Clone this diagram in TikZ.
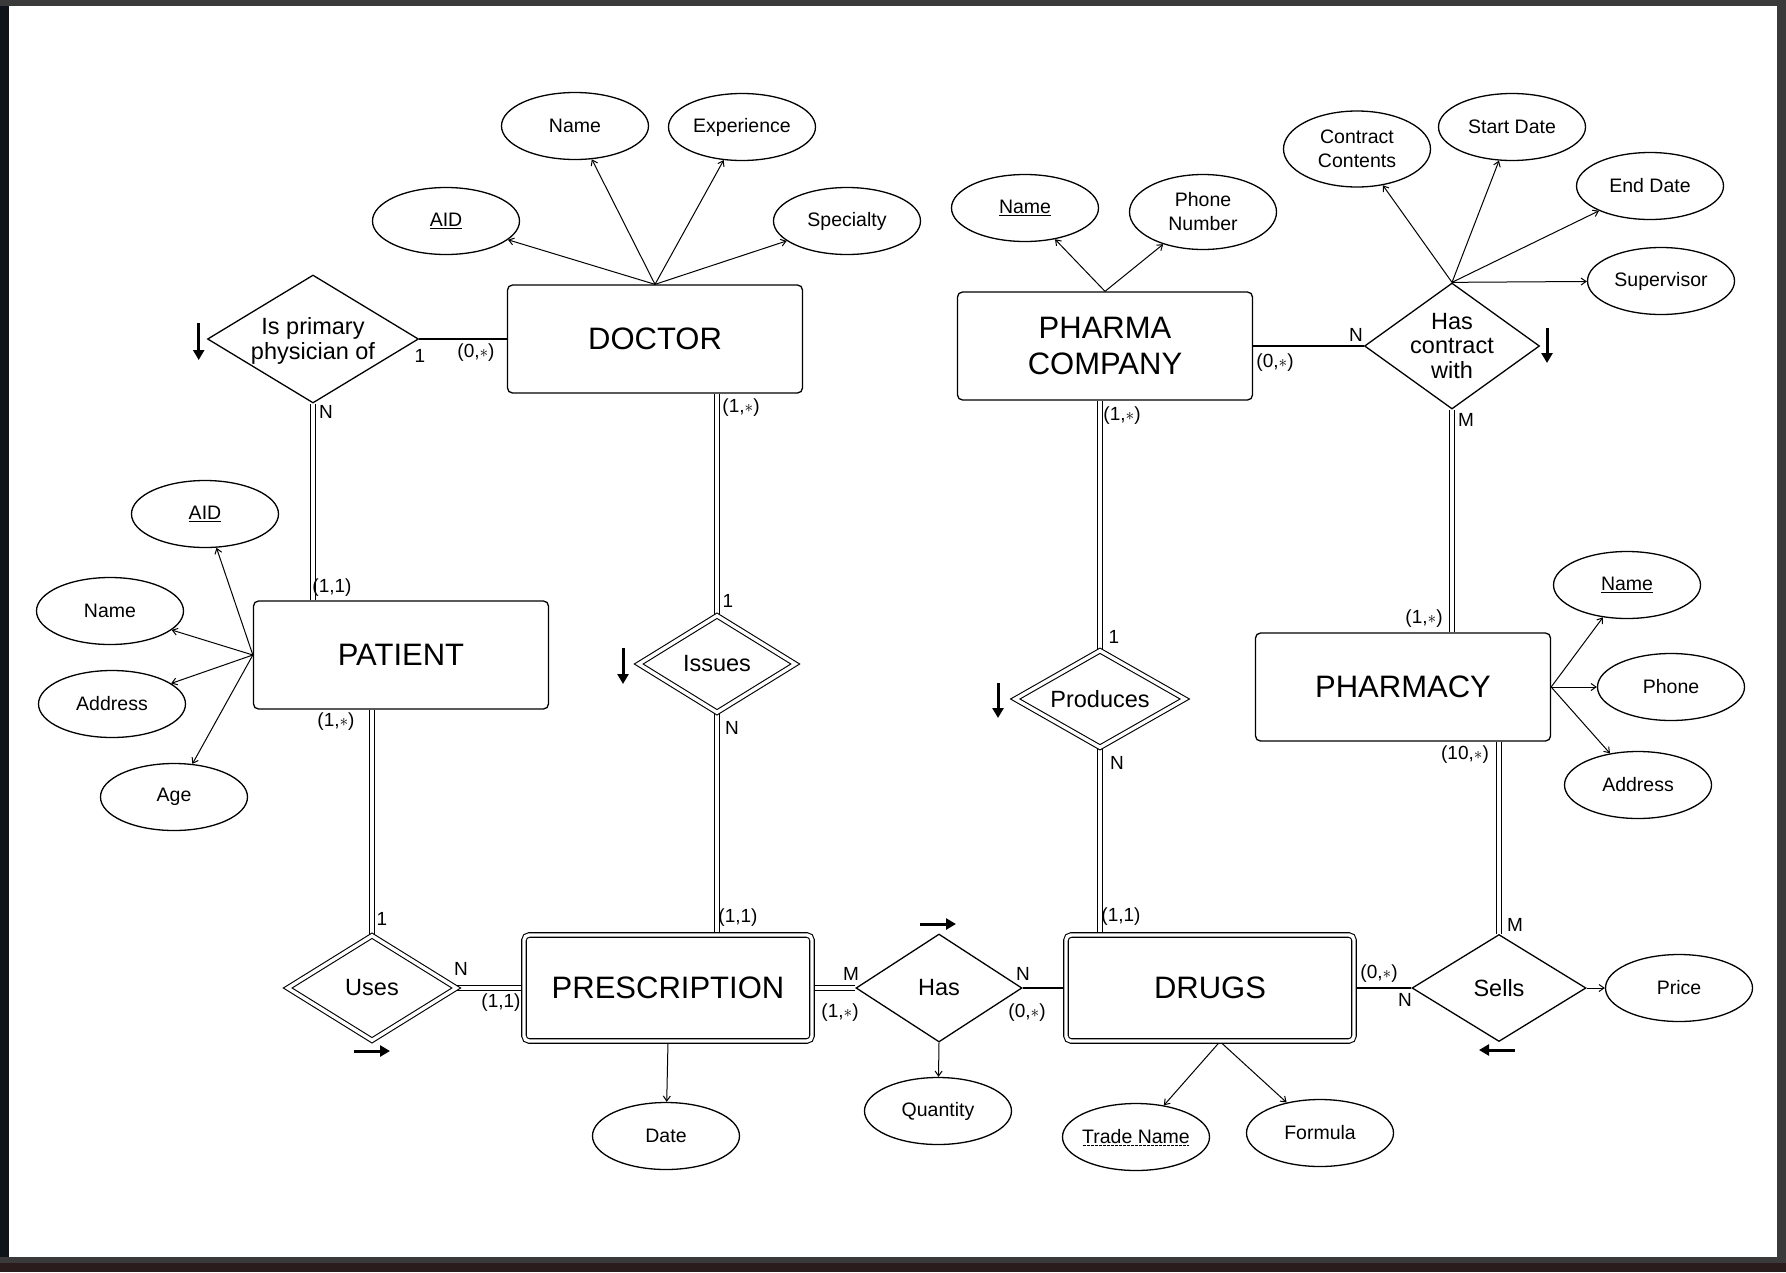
\documentclass[tikz,border=0pt]{standalone}
\usepackage{fontspec}
\setmainfont{Liberation Sans}
\usetikzlibrary{shapes.geometric,arrows.meta,backgrounds}
\definecolor{frameGray}{HTML}{3A3A3A}
\definecolor{frameLeft}{HTML}{0E1419}
\definecolor{frameBottom}{HTML}{2A1C1C}
\tikzset{
  ent/.style={draw, fill=white, line width=1.3pt, rounded corners=5pt, minimum width=295pt, minimum height=108pt, inner sep=0pt, align=center, font=\fontsize{31}{36}\selectfont},
  went/.style={ent, double, double distance=3.4pt, line width=1.1pt, minimum width=288pt, minimum height=106pt},
  rel/.style={draw, fill=white, diamond, line width=1.3pt, inner sep=0pt},
  wrel/.style={rel, double, double distance=3.4pt, line width=1.1pt},
  reltext/.style={inner sep=0pt, align=center, font=\fontsize{23.5}{24.5}\selectfont},
  attr/.style={draw, fill=white, ellipse, line width=1.3pt, minimum width=147pt, minimum height=67pt, inner sep=0pt, align=center, font=\fontsize{19.5}{24}\selectfont},
  card/.style={inner sep=0pt, font=\fontsize{19}{21}\selectfont},
  conn/.style={line width=1.3pt},
  dconn/.style={double, double distance=3.4pt, line width=1.1pt},
  attrarr/.style={line width=1pt, -{Straight Barb[length=5pt,width=7pt]}},
  dirarr/.style={line width=3pt, -{Triangle[length=10pt,width=11pt]}},
}
\newcommand{\st}{$\ast$}
\begin{document}
\begin{tikzpicture}[x=1pt,y=-1pt]
\useasboundingbox (0,0) rectangle (1786,1272);

% entities
\node[ent] (doctor) at (655,339) {DOCTOR};
\node[ent] (patient) at (401,655) {PATIENT};
\node[ent] (pharma) at (1105,346) {PHARMA\\COMPANY};
\node[ent] (pharmacy) at (1403,687) {PHARMACY};
\node[went] (presc) at (668,988) {PRESCRIPTION};
\node[went] (drugs) at (1210,988) {DRUGS};

% relationships
\node[rel, minimum width=211pt, minimum height=128pt] (ipp) at (313,339) {};
\node[reltext] (ippT) at ([yshift=-2pt]ipp.center) {Is primary\\physician of};
\node[rel, minimum width=175pt, minimum height=126pt] (hcw) at (1452,346) {};
\node[reltext] (hcwT) at (hcw.center) {Has\\contract\\with};
\node[wrel, minimum width=157pt, minimum height=97pt] (issues) at (717,664) {};
\node[reltext] (issuesT) at (issues.center) {Issues};
\node[wrel, minimum width=170pt, minimum height=97pt] (produces) at (1100,699) {};
\node[reltext] (producesT) at (produces.center) {Produces};
\node[wrel, minimum width=169pt, minimum height=105pt] (uses) at (372,988) {};
\node[reltext] (usesT) at (uses.center) {Uses};
\node[rel, minimum width=166pt, minimum height=108pt] (has) at (939,988) {};
\node[reltext] (hasT) at (has.center) {Has};
\node[rel, minimum width=174pt, minimum height=107pt] (sells) at (1499,988) {};
\node[reltext] (sellsT) at (sells.center) {Sells};

% attributes
\node[attr] (daid) at (446,221) {\underline{AID}};
\node[attr] (dname) at (575,126) {Name};
\node[attr] (dexp) at (742,127) {Experience};
\node[attr] (dspec) at (847,221) {Specialty};
\node[attr] (paid) at (205,514) {\underline{AID}};
\node[attr] (pname) at (110,611) {Name};
\node[attr] (paddr) at (112,704) {Address};
\node[attr] (page) at (174,797) {Age};
\node[attr] (cname) at (1025,208) {\underline{Name}};
\node[attr, minimum height=75pt] (cphone) at (1203,212) {Phone\\Number};
\node[attr, minimum height=76pt] (hcc) at (1357,149) {Contract\\Contents};
\node[attr] (hsd) at (1512,127) {Start Date};
\node[attr] (hed) at (1650,186) {End Date};
\node[attr] (hsup) at (1661,281) {Supervisor};
\node[attr] (yname) at (1627,585) {\underline{Name}};
\node[attr] (yphone) at (1671,687) {Phone};
\node[attr] (yaddr) at (1638,785) {Address};
\node[attr] (price) at (1679,988) {Price};
\node[attr, inner xsep=-4pt] (tn) at (1136,1137) {Trade Name};
\node[attr] (formula) at (1320,1133) {Formula};
\node[attr] (date) at (666,1136) {Date};
\node[attr] (qty) at (938,1111) {Quantity};

% cardinality labels
\node[card] (c1) at (420,356) {1};
\node[card] (c2) at (476,353) {(0,\st)};
\node[card] (c3) at (326,412) {N};
\node[card] (c4) at (332,588) {(1,1)};
\node[card] (c5) at (741,408) {(1,\st)};
\node[card] (c6) at (728,601) {1};
\node[card] (c7) at (732,728) {N};
\node[card] (c8) at (738,918) {(1,1)};
\node[card] (c9) at (336,722) {(1,\st)};
\node[card] (c10) at (382,919) {1};
\node[card] (c11) at (461,969) {N};
\node[card] (c12) at (501,1003) {(1,1)};
\node[card] (c13) at (851,974) {M};
\node[card] (c14) at (840,1013) {(1,\st)};
\node[card] (c15) at (1023,974) {N};
\node[card] (c16) at (1027,1013) {(0,\st)};
\node[card] (c17) at (1122,416) {(1,\st)};
\node[card] (c18) at (1114,637) {1};
\node[card] (c19) at (1117,763) {N};
\node[card] (c20) at (1121,917) {(1,1)};
\node[card] (c21) at (1356,335) {N};
\node[card] (c22) at (1275,363) {(0,\st)};
\node[card] (c23) at (1466,420) {M};
\node[card] (c24) at (1424,619) {(1,\st)};
\node[card] (c25) at (1465,755) {(10,\st)};
\node[card] (c26) at (1515,925) {M};
\node[card] (c27) at (1379,974) {(0,\st)};
\node[card] (c28) at (1405,1000) {N};

% dashed underline of partial key
\draw[line width=0.9pt, dash pattern=on 2.5pt off 1.5pt] ([shift={(-53,8)}]tn.center) -- ([shift={(53,8)}]tn.center);

% direction arrows
\coordinate (a1s) at (198.7,323); \coordinate (a1e) at (198.7,360);
\coordinate (a2s) at (623,648);   \coordinate (a2e) at (623,684);
\coordinate (a3s) at (998,683);   \coordinate (a3e) at (998,718);
\coordinate (a4s) at (1547,328);  \coordinate (a4e) at (1547,363);
\coordinate (a5s) at (354,1051);  \coordinate (a5e) at (390,1051);
\coordinate (a6s) at (920,924);   \coordinate (a6e) at (956,924);
\coordinate (a7s) at (1515,1050); \coordinate (a7e) at (1479,1050);
\foreach \i in {1,...,7} {\draw[dirarr] (a\i s) -- (a\i e);}

\begin{pgfonlayer}{background}
\fill[frameGray] (0,0) rectangle (1786,1272);
\fill[frameBottom] (0,1263) rectangle (1786,1272);
\fill[frameLeft] (0,6) rectangle (9,1257);
\fill[white] (9,6) rectangle (1777,1257);

% relationship connectors
\draw[conn] (ipp.east) -- (doctor.west);
\draw[conn] (pharma.east) -- (hcw.west);
\draw[conn] (has.east) -- (drugs.west);
\draw[conn] (drugs.east) -- (sells.west);
\draw[dconn] (ipp.south) -- (ipp.south |- patient.north);
\draw[dconn] (doctor.south -| issues.north) -- (issues.north);
\draw[dconn] (issues.south) -- (issues.south |- presc.north);
\draw[dconn] (patient.south -| uses.north) -- (uses.north);
\draw[dconn] (uses.east) -- (presc.west);
\draw[dconn] (presc.east) -- (has.west);
\draw[dconn] (pharma.south -| produces.north) -- (produces.north);
\draw[dconn] (produces.south) -- (produces.south |- drugs.north);
\draw[dconn] (hcw.south) -- (hcw.south |- pharmacy.north);
\draw[dconn] (pharmacy.south -| sells.north) -- (sells.north);

% attribute connectors
\foreach \a in {daid,dname,dexp,dspec} {\draw[attrarr] (doctor.north) -- (\a);}
\foreach \a in {paid,pname,paddr,page} {\draw[attrarr] (patient.west) -- (\a);}
\foreach \a in {cname,cphone} {\draw[attrarr] (pharma.north) -- (\a);}
\foreach \a in {hcc,hsd,hed,hsup} {\draw[attrarr] (hcw.north) -- (\a);}
\foreach \a in {yname,yphone,yaddr} {\draw[attrarr] (pharmacy.east) -- (\a);}
\foreach \a in {tn,formula} {\draw[attrarr] ([xshift=10pt]drugs.south) -- (\a);}
\draw[attrarr] (sells.east) -- (price);
\draw[attrarr] (presc.south) -- (date);
\draw[attrarr] (has.south) -- (qty);
\end{pgfonlayer}
\end{tikzpicture}
\end{document}
